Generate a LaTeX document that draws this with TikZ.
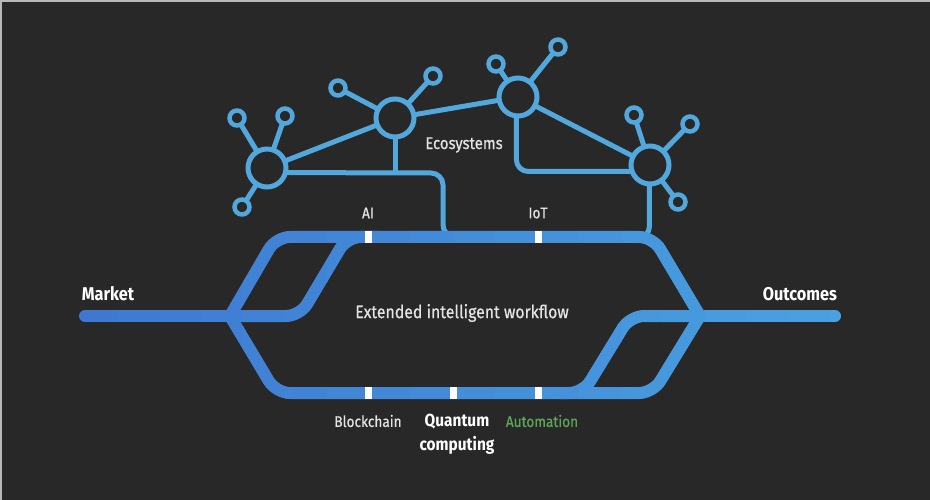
\documentclass[tikz,border=0pt]{standalone}
\usepackage{fontspec}
\setmainfont{Fira Sans}[FakeStretch=0.88]
\newfontfamily\medfont{Fira Sans}[FakeStretch=0.88,FakeBold=0.6]
\definecolor{bg}{HTML}{282828}
\definecolor{edge}{HTML}{B8B8B8}
\definecolor{trackL}{HTML}{3E78D0}
\definecolor{trackR}{HTML}{4AA2E2}
\definecolor{net}{HTML}{52A8DC}
\definecolor{txt}{HTML}{E4E4E4}
\definecolor{autog}{HTML}{5BA65A}
\newcommand\trackpaths[1]{%
  \draw[track,draw=#1] (mk) -- (J1);
  \draw[track,draw=#1] (J1) -- (276,237) -- (653,237) -- (J2);
  \draw[track,draw=#1] (J1) -- (300,316) -- (347,237) -- (380,237);
  \draw[track,draw=#1] (J1) -- (276,393) -- (653,393) -- (J2);
  \draw[track,draw=#1] (560,393) -- (583,393) -- (630,316) -- (J2);
  \draw[track,draw=#1] (J2) -- (oc);
}
\begin{document}
\begin{tikzpicture}[x=1pt,y=-1pt,
  hub/.style={circle,draw=net,line width=5pt,minimum size=38pt,inner sep=0pt,outer sep=0pt},
  sat/.style={circle,draw=net,line width=4.5pt,minimum size=15pt,inner sep=0pt,outer sep=0pt},
  link/.style={draw=net,line width=5pt},
  track/.style={line width=12pt,line cap=round,rounded corners=14pt},
  marker/.style={fill=white,minimum width=7pt,minimum height=12pt,inner sep=0pt,outer sep=0pt},
  lbl/.style={text=txt,font=\medfont\fontsize{15.5}{18}\selectfont,inner sep=0pt},
  blbl/.style={text=white,font=\fontsize{18.5}{21}\selectfont\bfseries,inner sep=0pt}
]
\useasboundingbox (0,0) rectangle (930,500);
\fill[bg] (0,0) rectangle (930,500);
\fill[edge] (0,0) rectangle (930,2.5);
\fill[edge] (0,0) rectangle (1.5,500);

% ecosystem network
\node[hub] (H1) at (267,168) {};
\node[hub] (H2) at (395,118) {};
\node[hub] (H3) at (518,97) {};
\node[hub] (H4) at (650,165) {};
\node[sat] (s1a) at (237,118) {};
\node[sat] (s1b) at (285,116) {};
\node[sat] (s1c) at (242,207) {};
\node[sat] (s2a) at (338,88) {};
\node[sat] (s2b) at (433,76) {};
\node[sat] (s3a) at (496,64) {};
\node[sat] (s3b) at (558,47) {};
\node[sat] (s4a) at (634,115) {};
\node[sat] (s4b) at (690,124) {};
\node[sat] (s4c) at (678,202) {};
\draw[link] (H1) -- (s1a);
\draw[link] (H1) -- (s1b);
\draw[link] (H1) -- (s1c);
\draw[link] (H2) -- (s2a);
\draw[link] (H2) -- (s2b);
\draw[link] (H3) -- (s3a);
\draw[link] (H3) -- (s3b);
\draw[link] (H4) -- (s4a);
\draw[link] (H4) -- (s4b);
\draw[link] (H4) -- (s4c);
\draw[link] (H1) -- (H2);
\draw[link] (H2) -- (H3);
\draw[link] (H3) -- (H4);
\coordinate (e1) at (443,173);
\coordinate (t1) at (443,237);
\coordinate (t2) at (472,237);
\coordinate (t4) at (0,237);
\coordinate (t5) at (622,237);
\draw[link,rounded corners=12pt] (H1.-14) -- (e1) -- (t1) -- (t2);
\draw[link] (H2.south) -- (H2.south |- e1);
\draw[link,rounded corners=12pt] (H3.265) |- (H4.200);
\draw[link,rounded corners=10pt] (H4.268) -- (H4.268 |- t4) -- (t5);

% workflow track with left-to-right colour gradient
\coordinate (J1) at (230,316);
\coordinate (J2) at (700,316);
\coordinate (mk) at (85,316);
\coordinate (oc) at (835,316);
\foreach \i in {0,...,18}{
  \pgfmathsetmacro\xa{75+\i*42}
  \pgfmathsetmacro\xb{\xa+42.6}
  \pgfmathtruncatemacro\pc{100-\i*100/18}
  \colorlet{tc}{trackL!\pc!trackR}
  \begin{scope}
    \clip (\xa,200) rectangle (\xb,420);
    \trackpaths{tc}
  \end{scope}
}

% markers
\node[marker] (mAI) at (368,237) {};
\node[marker] (mIoT) at (538,237) {};
\node[marker] (mBC) at (368,393) {};
\node[marker] (mQC) at (453,393) {};
\node[marker] (mAU) at (538,393) {};

% labels
\node[lbl] (ai) at (368,213) {AI};
\node[lbl] (iot) at (538,213) {IoT};
\node[lbl,font=\medfont\fontsize{17}{20}\selectfont] (eco) at (464,145) {Ecosystems};
\node[blbl] (mkt) at (108,294) {Market};
\node[blbl] (out) at (800,294) {Outcomes};
\node[text=txt,font=\medfont\fontsize{18}{21}\selectfont,inner sep=0pt] (ext) at (462,313) {Extended intelligent workflow};
\node[lbl] (bc) at (368,421) {Blockchain};
\node[text=white,font=\fontsize{17.5}{23.5}\selectfont\bfseries,align=center,inner sep=0pt] (qc) at (457,434) {Quantum\\computing};
\node[lbl,text=autog] (au) at (542,421) {Automation};
\end{tikzpicture}
\end{document}
